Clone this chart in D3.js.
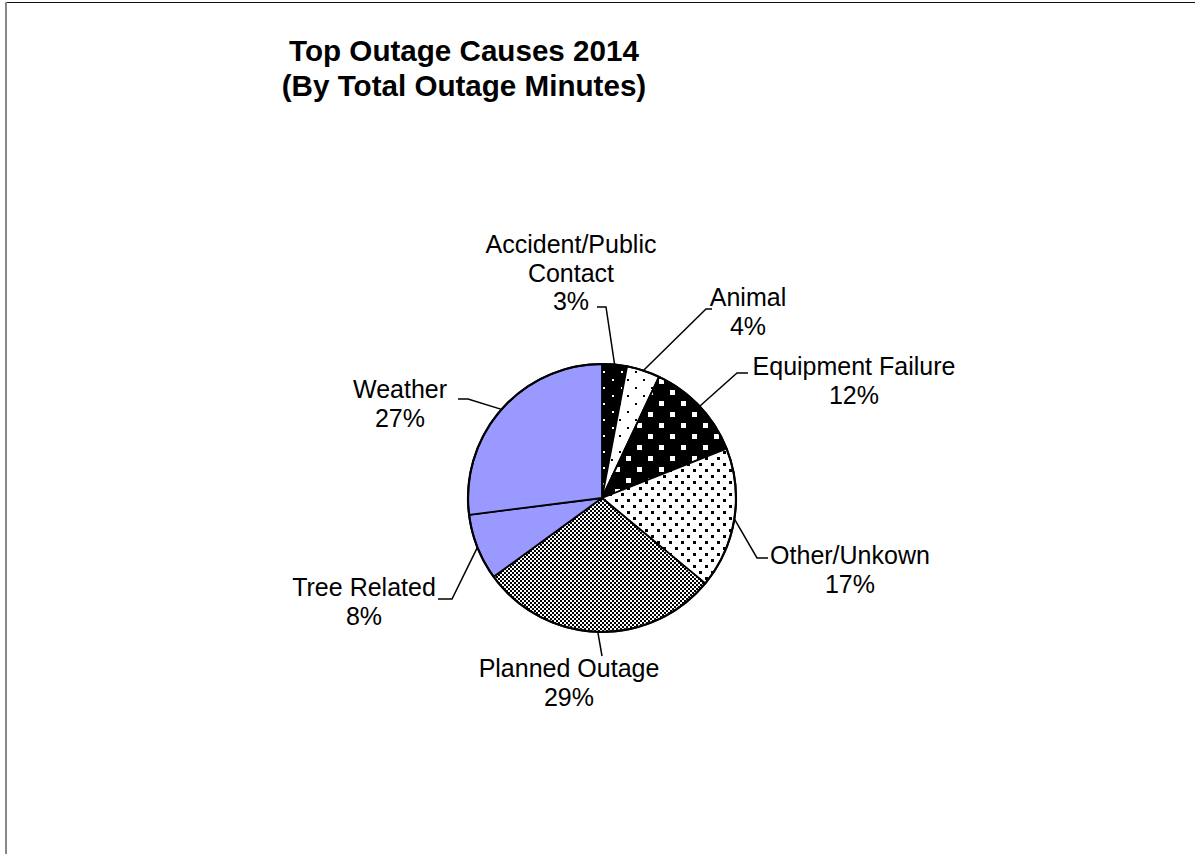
<!DOCTYPE html>
<html>
<head>
<meta charset="utf-8">
<script src="https://cdn.jsdelivr.net/npm/d3@7"></script>
<style>
  html, body { margin: 0; padding: 0; background: #fff; }
  svg { display: block; }
  text { font-family: "Liberation Sans", Arial, sans-serif; fill: #000; }
</style>
</head>
<body>
<svg id="chart" width="1195" height="854"></svg>
<script>
// ---- data ----
const categories = ["Accident/Public Contact", "Animal", "Equipment Failure", "Other/Unkown", "Planned Outage", "Tree Related", "Weather"];
const values = [3, 4, 12, 17, 29, 8, 27];
const labelLines = [["Accident/Public", "Contact"], ["Animal"], ["Equipment Failure"], ["Other/Unkown"], ["Planned Outage"], ["Tree Related"], ["Weather"]];
const fills = ["url(#pAccident)", "url(#pAnimal)", "url(#pEquip)", "url(#pOther)", "url(#pPlanned)", "#9999FF", "#9999FF"];
const titleLines = ["Top Outage Causes 2014", "(By Total Outage Minutes)"];

// ---- layout (not data) ----
const cx = 602, cy = 498, R = 134;
const labelPos = [
  { x: 571, y: 253, elbow: [[597, 307], [606, 307]] },
  { x: 748, y: 306, elbow: [[712, 309], [706, 309]] },
  { x: 854, y: 375, elbow: [[748, 373], [737, 373]] },
  { x: 850, y: 564, elbow: [[768, 558], [757, 558]] },
  { x: 569, y: 677, elbow: [[602, 656]] },
  { x: 364, y: 596, elbow: [[438, 599], [452, 599]] },
  { x: 400, y: 398, elbow: [[458, 399], [468, 399]] }
];
const lineH = 28.5;

const svg = d3.select("#chart");

// frame
svg.append("line").attr("x1", 6).attr("y1", 2.5).attr("x2", 1195).attr("y2", 2.5)
  .attr("stroke", "#111").attr("stroke-width", 1);
svg.append("line").attr("x1", 6).attr("y1", 2).attr("x2", 6).attr("y2", 854)
  .attr("stroke", "#888").attr("stroke-width", 2);

// patterns
const defs = svg.append("defs");
function dotPattern(id, bg, fg, w, h, size, pts) {
  const p = defs.append("pattern").attr("id", id).attr("patternUnits", "userSpaceOnUse")
    .attr("width", w).attr("height", h);
  p.append("rect").attr("width", w).attr("height", h).attr("fill", bg);
  pts.forEach(([x, y]) => p.append("rect").attr("x", x).attr("y", y)
    .attr("width", size).attr("height", size).attr("fill", fg));
}
dotPattern("pAccident", "#000", "#fff", 18, 16, 2, [[1, 1], [10, 9]]);
dotPattern("pAnimal", "#fff", "#000", 16, 16, 2, [[1, 1], [9, 9]]);
dotPattern("pEquip", "#000", "#fff", 22, 22, 5, [[2, 2], [13, 13]]);
dotPattern("pOther", "#fff", "#000", 12, 12, 3, [[1, 1], [7, 7]]);
dotPattern("pPlanned", "#fff", "#000", 4, 4, 2, [[0, 0], [2, 2]]);

// title
const title = svg.append("text").attr("text-anchor", "middle")
  .style("font-weight", "bold").style("font-size", "29.6px");
titleLines.forEach((t, i) => title.append("tspan").attr("x", 464).attr("y", 61 + i * 35).text(t));

// pie
const pie = d3.pie().sort(null).value(d => d)(values);
const arc = d3.arc().innerRadius(0).outerRadius(R);
const edge = d3.arc().innerRadius(R).outerRadius(R);
const g = svg.append("g").attr("transform", `translate(${cx},${cy})`);
g.selectAll("path.slice").data(pie).join("path").attr("class", "slice")
  .attr("d", arc).attr("fill", (d, i) => fills[i])
  .attr("stroke", "#000").attr("stroke-width", 1.8).attr("stroke-linejoin", "round");
g.append("circle").attr("r", R).attr("fill", "none").attr("stroke", "#000").attr("stroke-width", 2.2);

// leader lines
pie.forEach((d, i) => {
  const [ex, ey] = edge.centroid(d);
  const pts = labelPos[i].elbow.concat([[cx + ex, cy + ey]]);
  svg.append("path").attr("d", d3.line()(pts)).attr("fill", "none")
    .attr("stroke", "#000").attr("stroke-width", 1.5);
});

// labels
pie.forEach((d, i) => {
  const lines = labelLines[i].concat([Math.round(values[i] / d3.sum(values) * 100) + "%"]);
  const t = svg.append("text").attr("text-anchor", "middle").style("font-size", "25px");
  lines.forEach((s, k) => t.append("tspan").attr("x", labelPos[i].x).attr("y", labelPos[i].y + k * lineH).text(s));
});
</script>
</body>
</html>
